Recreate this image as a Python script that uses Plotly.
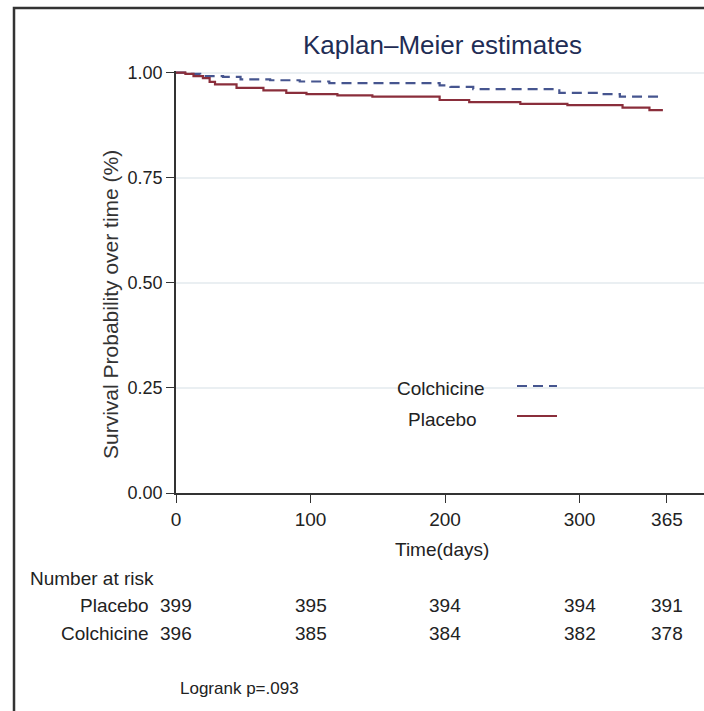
import plotly.graph_objects as go

# ---- Data ----
placebo_days = [0, 7, 13, 20, 25, 29, 45, 65, 82, 97, 120, 146, 196, 218, 256, 291, 332, 352, 362]
placebo_surv = [1.000, 0.997, 0.992, 0.987, 0.978, 0.972, 0.964, 0.958, 0.952, 0.949, 0.946, 0.943,
                0.935, 0.930, 0.926, 0.923, 0.917, 0.911, 0.911]

colch_days = [0, 10, 18, 35, 48, 70, 92, 114, 196, 204, 221, 285, 317, 330, 362]
colch_surv = [1.000, 0.997, 0.992, 0.990, 0.984, 0.982, 0.979, 0.975, 0.970, 0.966, 0.961,
              0.952, 0.949, 0.943, 0.943]

risk_times = [0, 100, 200, 300, 365]
risk_placebo = [399, 395, 394, 394, 391]
risk_colch = [396, 385, 384, 382, 378]

x_ticks = [0, 100, 200, 300, 365]
y_ticks = [0, 0.25, 0.5, 0.75, 1.0]

title_text = "Kaplan\u2013Meier estimates"
y_title = "Survival Probability over time (%)"
x_title = "Time(days)"
logrank_text = "Logrank p=.093"

# ---- Styles ----
FONT = "Liberation Sans, Arial, sans-serif"
C_COLCH = "#46558f"
C_PLAC = "#8a2e3b"
TXT = "#222222"

W, H = 704, 711
L, R, T, B = 176, 0, 71, 218
PW, PH = W - L - R, H - T - B


def px_x(x):
    return (x - L) / PW


def px_y(y):
    return (H - B - y) / PH


fig = go.Figure()
fig.add_trace(go.Scatter(x=colch_days, y=colch_surv, mode="lines", line_shape="hv",
                         line=dict(color=C_COLCH, width=2.2, dash="10px,6px"),
                         name="Colchicine", showlegend=False, hoverinfo="skip"))
fig.add_trace(go.Scatter(x=placebo_days, y=placebo_surv, mode="lines", line_shape="hv",
                         line=dict(color=C_PLAC, width=2.2),
                         name="Placebo", showlegend=False, hoverinfo="skip"))

x_max = PW / 1.345

fig.update_xaxes(range=[0, x_max], tickvals=x_ticks, ticktext=[str(v) for v in x_ticks],
                 showline=True, linecolor="#333333", linewidth=1.5, ticks="outside",
                 ticklen=8, tickcolor="#333333", tickwidth=1.2, showgrid=False, zeroline=False,
                 tickfont=dict(family=FONT, size=19, color=TXT))
fig.update_yaxes(range=[0, 1.004], tickvals=y_ticks, tickformat=".2f",
                 showline=True, linecolor="#333333", linewidth=1.5, ticks="outside",
                 ticklen=8, tickcolor="#333333", tickwidth=1.2, showgrid=True,
                 gridcolor="#eaeff2", gridwidth=1.5, zeroline=False,
                 tickfont=dict(family=FONT, size=18, color=TXT))

ann = []
ann.append(dict(text=title_text, xref="paper", yref="paper", x=px_x(442), y=px_y(45),
                xanchor="center", yanchor="middle", showarrow=False,
                font=dict(family=FONT, size=26, color="#1f2d55")))
ann.append(dict(text=y_title, xref="paper", yref="paper", x=px_x(110), y=px_y(305),
                xanchor="center", yanchor="middle", showarrow=False, textangle=-90,
                font=dict(family=FONT, size=21, color="#333333")))
ann.append(dict(text=x_title, xref="paper", yref="paper", x=px_x(442), y=px_y(549),
                xanchor="center", yanchor="middle", showarrow=False,
                font=dict(family=FONT, size=19, color=TXT)))
ann.append(dict(text="Number at risk", xref="paper", yref="paper", x=px_x(28), y=px_y(578),
                xanchor="left", yanchor="middle", showarrow=False,
                font=dict(family=FONT, size=19, color=TXT)))
ann.append(dict(text="Placebo", xref="paper", yref="paper", x=px_x(151), y=px_y(605),
                xanchor="right", yanchor="middle", showarrow=False,
                font=dict(family=FONT, size=19, color=TXT)))
ann.append(dict(text="Colchicine", xref="paper", yref="paper", x=px_x(151), y=px_y(633),
                xanchor="right", yanchor="middle", showarrow=False,
                font=dict(family=FONT, size=19, color=TXT)))
for t, v in zip(risk_times, risk_placebo):
    ann.append(dict(text=str(v), xref="x", yref="paper", x=t, y=px_y(605),
                    xanchor="center", yanchor="middle", showarrow=False,
                    font=dict(family=FONT, size=19, color=TXT)))
for t, v in zip(risk_times, risk_colch):
    ann.append(dict(text=str(v), xref="x", yref="paper", x=t, y=px_y(633),
                    xanchor="center", yanchor="middle", showarrow=False,
                    font=dict(family=FONT, size=19, color=TXT)))
ann.append(dict(text=logrank_text, xref="paper", yref="paper", x=px_x(178), y=px_y(688),
                xanchor="left", yanchor="middle", showarrow=False,
                font=dict(family=FONT, size=17, color=TXT)))
# legend labels
ann.append(dict(text="Colchicine", xref="paper", yref="paper", x=px_x(441), y=px_y(388),
                xanchor="center", yanchor="middle", showarrow=False,
                font=dict(family=FONT, size=19, color=TXT)))
ann.append(dict(text="Placebo", xref="paper", yref="paper", x=px_x(442), y=px_y(419),
                xanchor="center", yanchor="middle", showarrow=False,
                font=dict(family=FONT, size=19, color=TXT)))

shapes = [
    # legend samples
    dict(type="line", xref="paper", yref="paper", x0=px_x(517), x1=px_x(557),
         y0=px_y(386), y1=px_y(386), line=dict(color=C_COLCH, width=2, dash="10px,6px")),
    dict(type="line", xref="paper", yref="paper", x0=px_x(517), x1=px_x(557),
         y0=px_y(416), y1=px_y(416), line=dict(color=C_PLAC, width=2)),
    # outer frame
    dict(type="rect", xref="paper", yref="paper", x0=px_x(14), x1=px_x(720),
         y0=px_y(725), y1=px_y(8), line=dict(color="#333333", width=2.5),
         fillcolor="rgba(0,0,0,0)", layer="above"),
]

fig.update_layout(width=W, height=H, margin=dict(l=L, r=R, t=T, b=B),
                  paper_bgcolor="white", plot_bgcolor="white",
                  annotations=ann, shapes=shapes, showlegend=False)

fig.write_html("out.html")
